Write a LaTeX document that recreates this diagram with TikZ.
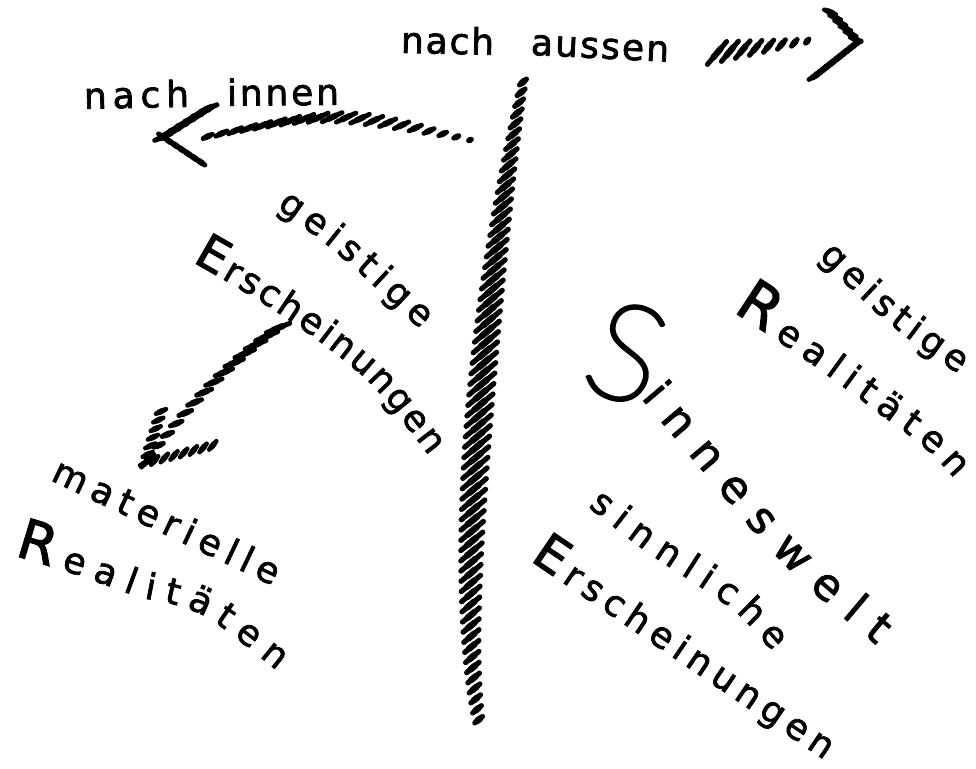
\documentclass[tikz,border=0pt]{standalone}
\usepackage{fontspec}
\usetikzlibrary{decorations.markings,decorations.text}
\newfontfamily\hand{DejaVu Sans}[FakeBold=2]
\IfFontExistsTF{Lato Thin}{\newfontfamily\thinhand{Lato Thin}[FakeBold=3]}{%
 \IfFontExistsTF{Fira Sans ExtraLight}{\newfontfamily\thinhand{Fira Sans ExtraLight}}{%
  \IfFontExistsTF{DejaVu Sans ExtraLight}{\newfontfamily\thinhand{DejaVu Sans ExtraLight}}{%
   \IfFontExistsTF{Fira Sans Light}{\newfontfamily\thinhand{Fira Sans Light}}{%
    \newfontfamily\thinhand{Liberation Sans}}}}}
\newcommand\hwS{\hand\fontsize{36pt}{40pt}\selectfont}
\newcommand\hwM{\hand\fontsize{44pt}{50pt}\selectfont}
\newcommand\hwC[1]{\hand\fontsize{#1pt}{#1pt}\selectfont}
\tikzset{
  % hatch = {step}{stroke angle}{len A}{len B}{len C}{thickness}; len = A + B t + C sin(180 t)
  hatch/.style n args={6}{postaction={decorate}, decoration={markings,
    mark=between positions 0 and 1 step #1 with {%
      \pgfmathsetmacro\hT{\pgfkeysvalueof{/pgf/decoration/mark info/distance from start}/\pgfdecoratedpathlength}%
      \pgfmathsetmacro\hL{#3+(#4)*\hT+(#5)*sin(180*\hT)}%
      \pgfmathsetmacro\hA{0.5*\hL}%
      \pgfmathsetmacro\hB{0.2*\hL}%
      \pgfmathsetmacro\hWW{1.25*#6}%
      \pgftransformresetnontranslations
      \pgftransformrotate{#2}%
      \draw[line width=#6pt, line cap=round] (-\hA pt,0pt) -- (\hA pt,0pt);
      \draw[line width=\hWW pt, line cap=round] (-\hB pt,0pt) -- (\hB pt,0pt);
    }}},
  word/.style 2 args={decorate, decoration={text along path, text={#1}, text align={fit to path}, raise=#2}},
}
\begin{document}
\begin{tikzpicture}[x=1pt,y=-1pt]
\useasboundingbox (0,0) rectangle (976,768);
\fill[white] (0,0) rectangle (976,768);

% dividing hatched line
\coordinate (vtop) at (523,82);
\coordinate (vbot) at (480,727);
\path[hatch={10.5pt}{40}{9}{0}{25}{5.2}] (vtop) .. controls (485,280) and (455,600) .. (vbot);

% nach aussen arrow
\coordinate (aus0) at (717,53);
\coordinate (aus1) at (808,41);
\coordinate (aust) at (858,42);
\coordinate (ausu) at (830,12);
\coordinate (ausl) at (815,76);
\path[hatch={13pt}{50}{30}{-25}{0}{5}] (aus0) -- (aus1);
\path[hatch={7.5pt}{-22}{12}{0}{0}{4.8}] (ausu) -- (aust);
\path[hatch={8.5pt}{30}{14}{0}{0}{4.8}] (ausl) -- (aust);

% nach innen arrow
\coordinate (in0) at (470,140);
\coordinate (in1) at (200,138);
\coordinate (int) at (163,137);
\coordinate (inu) at (212,106);
\coordinate (inl) at (205,165);
\path[hatch={14pt}{25}{3}{6}{16}{4.8}] (in0) .. controls (335,110) .. (in1);
\path[hatch={9pt}{22}{18}{0}{0}{5}] (int) -- (inu);
\path[hatch={7.5pt}{-35}{11}{0}{0}{4.8}] (int) -- (inl);

% curved arrow
\coordinate (cu0) at (278,328);
\coordinate (cut) at (145,463);
\coordinate (cuu) at (163,405);
\coordinate (cul) at (222,443);
\path[hatch={14pt}{22}{25}{-17}{0}{5}] (cu0) .. controls (225,365) and (185,410) .. (cut);
\path[hatch={9pt}{25}{11}{0}{0}{4.6}] (cut) -- (cuu);
\path[hatch={10pt}{50}{11}{0}{0}{4.6}] (cut) -- (cul);

% words
\path[word={|\hwS|nach}{-9.8pt}] (401,43) -- (494,45);
\path[word={|\hwS|aussen}{-9.8pt}] (531,45) -- (669,52);
\path[word={|\hwS|nach}{-9.8pt}] (84,99) -- (189,97);
\path[word={|\hwS|innen}{-9.8pt}] (227,96) -- (339,95);

\path[word={|\hwS|geistige}{-9.8pt}] (282,200) .. controls (339,240) .. (427,322);
\path[word={|\hwC{48}|E|\hwS|rscheinungen}{-9.8pt}] (197,253) .. controls (265,292) .. (318,328) .. controls (380,375) .. (437,450);
\path[word={|\hwS|materielle}{-9.8pt}] (54,471) -- (277,577);
\path[word={|\hwC{55}|R|\hwS|ealitäten}{-9.8pt}] (17,546) .. controls (80,565) .. (142,588) .. controls (205,600) .. (283,663);

\path[word={|\hwS|geistige}{-9.8pt}] (825,250) .. controls (895,318) .. (964,366);
\path[word={|\hwC{58}|R|\hwS|ealitäten}{-9.8pt}] (738,303) .. controls (810,350) .. (887,407) .. controls (935,442) .. (962,472);
\node[inner sep=0pt, rotate=-20, font={\thinhand\fontsize{135pt}{140pt}\selectfont}] (S) at (627,353) {S};
\path[word={|\hwM|inneswelt}{-12pt}] (650,390) .. controls (705,455) .. (757,517) .. controls (805,570) .. (884,636);
\path[word={|\hwS|sinnliche}{-9.8pt}] (594,499) .. controls (650,543) .. (700,575) .. controls (745,605) .. (780,645);
\path[word={|\hwC{50}|E|\hwS|rscheinungen}{-9.8pt}] (535,552) -- (830,752);
\end{tikzpicture}
\end{document}
